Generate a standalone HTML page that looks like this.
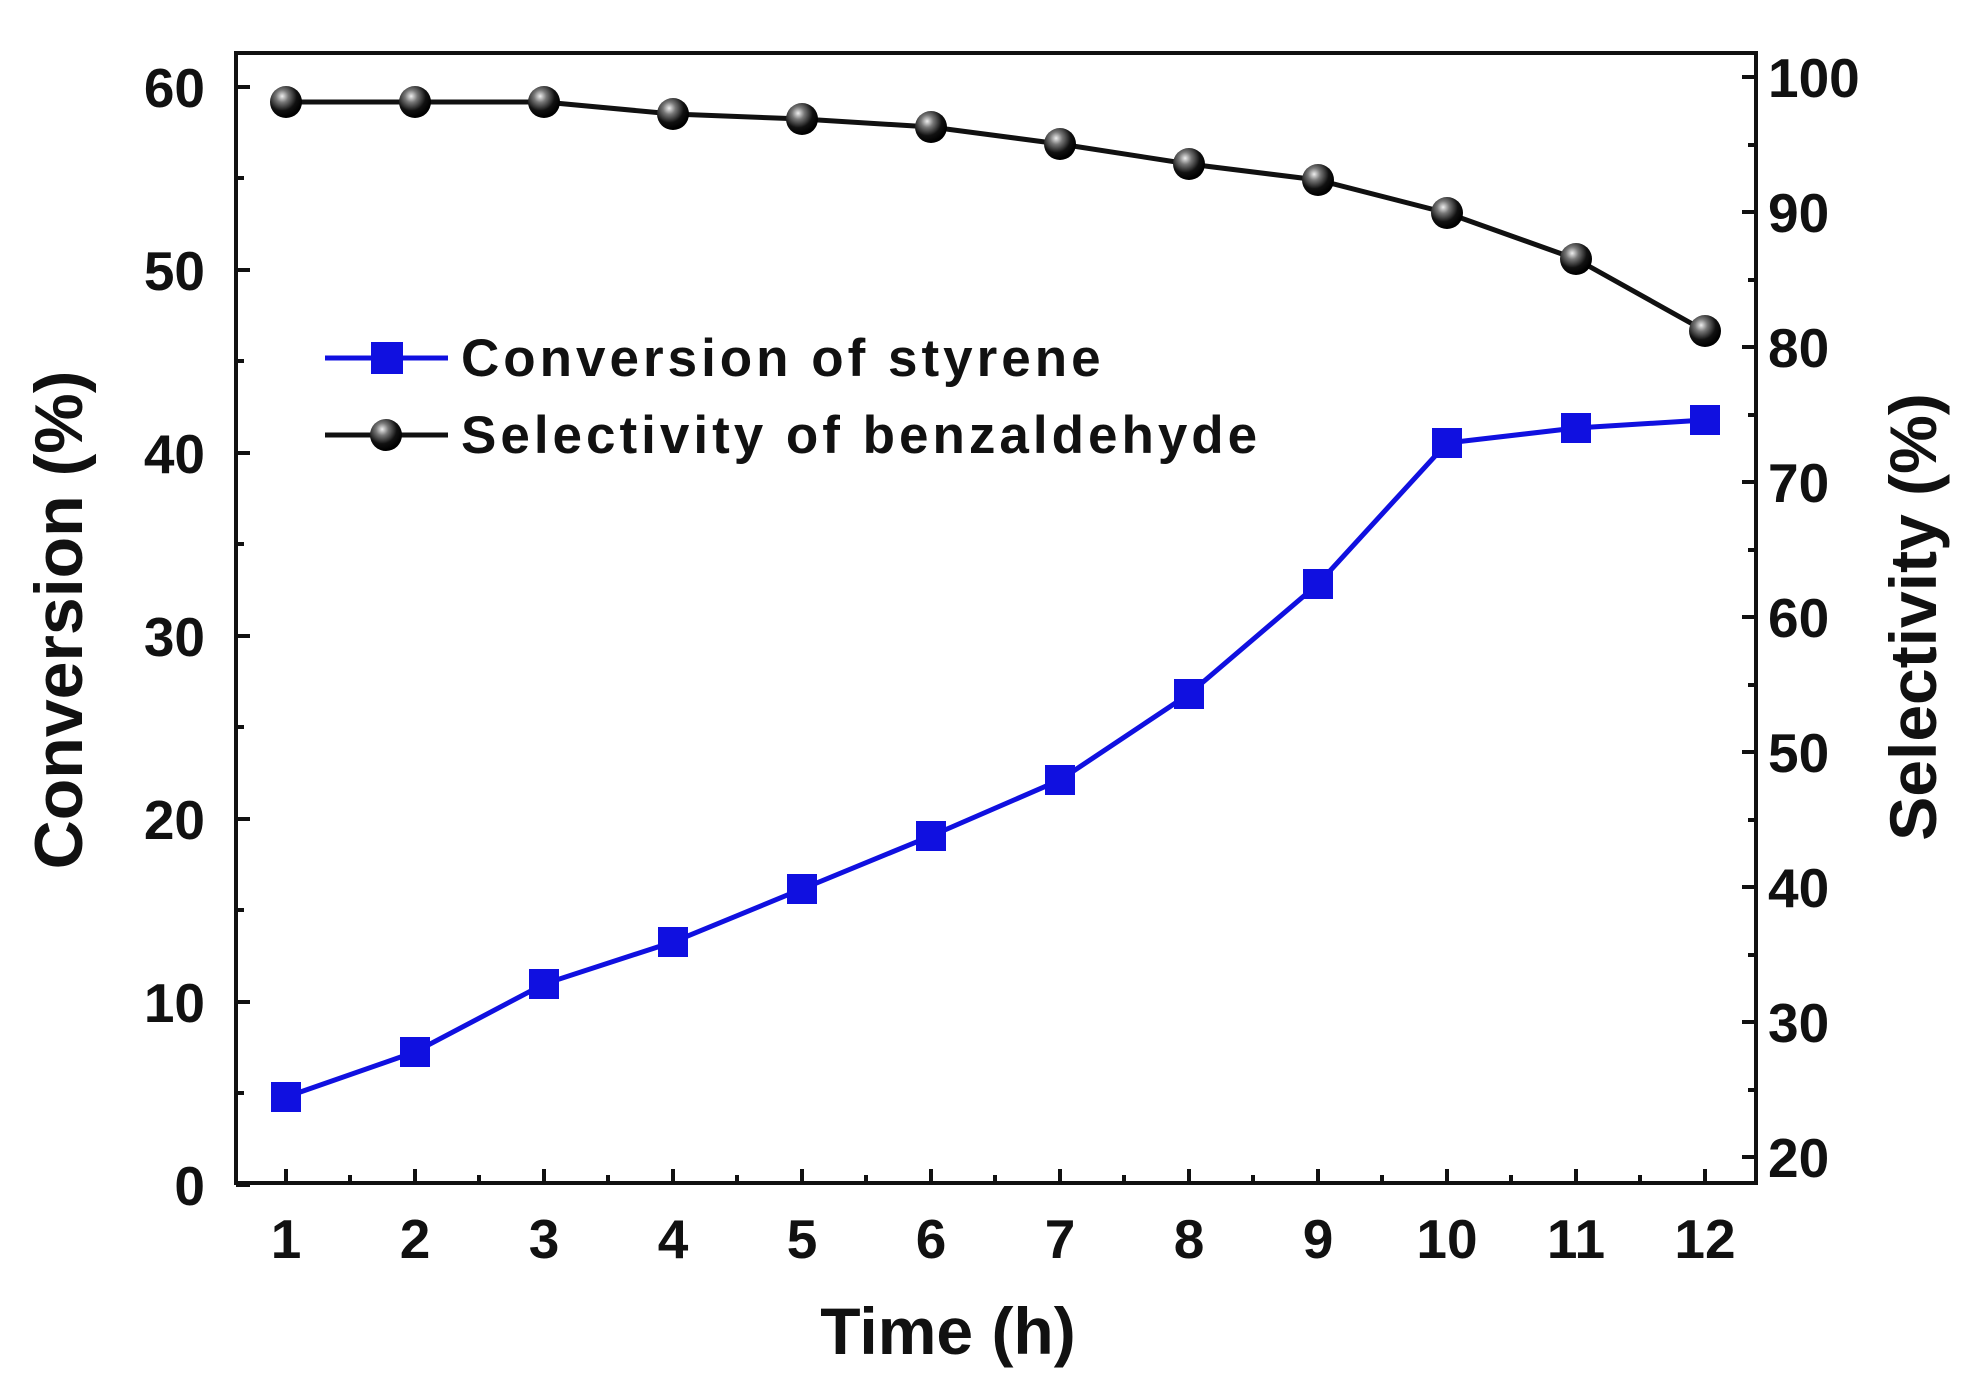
<!DOCTYPE html>
<html><head><meta charset="utf-8"><style>body{margin:0;background:#fff}svg{display:block}</style></head><body>
<svg width="1980" height="1392" viewBox="0 0 1980 1392" xmlns="http://www.w3.org/2000/svg" font-family="Liberation Sans, Arial, sans-serif" font-weight="bold">
<defs><radialGradient id="sp" cx="0.38" cy="0.32" r="0.65"><stop offset="0" stop-color="#eee"/><stop offset="0.3" stop-color="#777"/><stop offset="0.7" stop-color="#111"/><stop offset="1" stop-color="#000"/></radialGradient></defs>
<rect x="236" y="53" width="1520" height="1130" fill="none" stroke="#111" stroke-width="4"/>
<g stroke="#111" stroke-width="4">
<path d="M236 1185h14M236 1002h14M236 819h14M236 636h14M236 453h14M236 270h14M236 87h14M236 1093h8M236 910h8M236 727h8M236 544h8M236 361h8M236 178h8"/>
<path d="M1756 1157h-14M1756 1022h-14M1756 887h-14M1756 752h-14M1756 617h-14M1756 482h-14M1756 347h-14M1756 212h-14M1756 77h-14M1756 1090h-8M1756 955h-8M1756 820h-8M1756 685h-8M1756 550h-8M1756 415h-8M1756 280h-8M1756 145h-8"/>
<path d="M286 1183v-14M415 1183v-14M544 1183v-14M673 1183v-14M802 1183v-14M931 1183v-14M1060 1183v-14M1189 1183v-14M1318 1183v-14M1447 1183v-14M1576 1183v-14M1705 1183v-14M350 1183v-8M479 1183v-8M608 1183v-8M737 1183v-8M866 1183v-8M995 1183v-8M1124 1183v-8M1253 1183v-8M1382 1183v-8M1511 1183v-8M1640 1183v-8"/>
</g>
<g font-size="55" fill="#111" text-anchor="end">
<text x="205" y="1205">0</text><text x="205" y="1022">10</text><text x="205" y="839">20</text><text x="205" y="656">30</text><text x="205" y="473">40</text><text x="205" y="290">50</text><text x="205" y="107">60</text>
</g>
<g font-size="55" fill="#111">
<text x="1768" y="1177">20</text><text x="1768" y="1042">30</text><text x="1768" y="907">40</text><text x="1768" y="772">50</text><text x="1768" y="637">60</text><text x="1768" y="502">70</text><text x="1768" y="367">80</text><text x="1768" y="232">90</text><text x="1768" y="97">100</text>
</g>
<g font-size="55" fill="#111" text-anchor="middle">
<text x="286" y="1258">1</text><text x="415" y="1258">2</text><text x="544" y="1258">3</text><text x="673" y="1258">4</text><text x="802" y="1258">5</text><text x="931" y="1258">6</text><text x="1060" y="1258">7</text><text x="1189" y="1258">8</text><text x="1318" y="1258">9</text><text x="1447" y="1258">10</text><text x="1576" y="1258">11</text><text x="1705" y="1258">12</text>
</g>
<text x="948" y="1354" font-size="66" text-anchor="middle" fill="#111">Time (h)</text>
<text transform="translate(82,620) rotate(-90)" font-size="68" text-anchor="middle" fill="#111">Conversion (%)</text>
<text transform="translate(1936,617) rotate(-90)" font-size="66" text-anchor="middle" fill="#111">Selectivity (%)</text>
<polyline fill="none" stroke="#1010e0" stroke-width="5" points="286,1097 415,1052 544,984 673,942 802,889 931,836 1060,780 1189,694 1318,584 1447,443 1576,428 1705,420"/>
<g fill="#1010e0">
<rect x="271" y="1082" width="30" height="30"/><rect x="400" y="1037" width="30" height="30"/><rect x="529" y="969" width="30" height="30"/><rect x="658" y="927" width="30" height="30"/><rect x="787" y="874" width="30" height="30"/><rect x="916" y="821" width="30" height="30"/><rect x="1045" y="765" width="30" height="30"/><rect x="1174" y="679" width="30" height="30"/><rect x="1303" y="569" width="30" height="30"/><rect x="1432" y="428" width="30" height="30"/><rect x="1561" y="413" width="30" height="30"/><rect x="1690" y="405" width="30" height="30"/>
</g>
<polyline fill="none" stroke="#111" stroke-width="5" points="286,102 415,102 544,102 673,114 802,119 931,127 1060,144 1189,164 1318,180 1447,213 1576,259 1705,331"/>
<g fill="url(#sp)">
<circle cx="286" cy="102" r="16"/><circle cx="415" cy="102" r="16"/><circle cx="544" cy="102" r="16"/><circle cx="673" cy="114" r="16"/><circle cx="802" cy="119" r="16"/><circle cx="931" cy="127" r="16"/><circle cx="1060" cy="144" r="16"/><circle cx="1189" cy="164" r="16"/><circle cx="1318" cy="180" r="16"/><circle cx="1447" cy="213" r="16"/><circle cx="1576" cy="259" r="16"/><circle cx="1705" cy="331" r="16"/>
</g>
<line x1="325" y1="358" x2="448" y2="358" stroke="#1010e0" stroke-width="5"/>
<rect x="371" y="342" width="32" height="32" fill="#1010e0"/>
<line x1="325" y1="435" x2="448" y2="435" stroke="#111" stroke-width="5"/>
<circle cx="386" cy="435" r="16" fill="url(#sp)"/>
<text x="461" y="376" font-size="53" letter-spacing="4" fill="#111">Conversion of styrene</text>
<text x="461" y="453" font-size="53" letter-spacing="4" fill="#111">Selectivity of benzaldehyde</text>
</svg>
</body></html>
